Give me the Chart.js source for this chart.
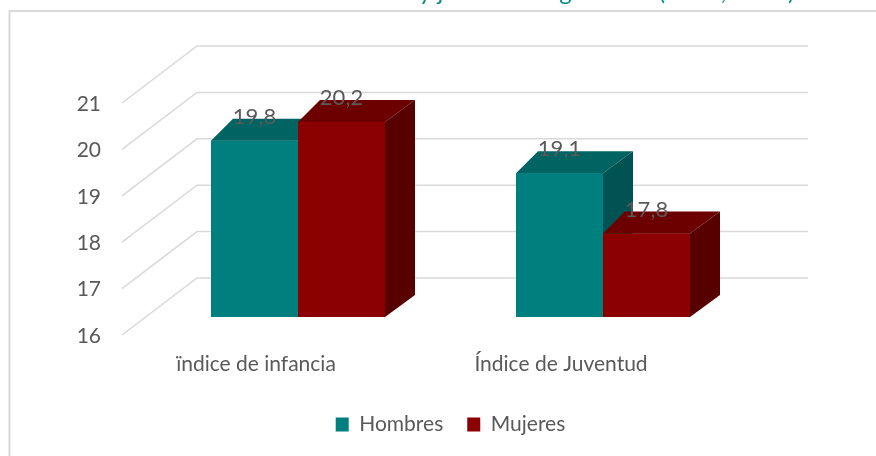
<!DOCTYPE html>
<html>
<head>
<meta charset="utf-8">
<script src="https://cdn.jsdelivr.net/npm/chart.js@4/dist/chart.umd.min.js"></script>
<style>
  html, body { margin: 0; padding: 0; background: #ffffff; }
  #wrap { width: 876px; height: 456px; position: relative; }
  canvas { display: block; }
</style>
</head>
<body>
<div id="wrap"><canvas id="c" width="876" height="456"></canvas></div>
<script>
// ---- data ----
const titleText = 'Índice de infancia y juventud según sexo (2019, 2020)';
const categories = ['ïndice de infancia', 'Índice de Juventud'];
const seriesNames = ['Hombres', 'Mujeres'];
const hombres = [19.8, 19.1];
const mujeres = [20.2, 17.8];
const yMin = 16;
const yMax = 21;
const yStep = 1;

// ---- styles ----
const FONT = 'Lato';
const TEXT = '#595959';
const frontColors = ['#007f7f', '#8b0000'];
const topColors = ['#006462', '#6c0000'];
const sideColors = ['#005352', '#580000'];
const DX_L = 22, DX_R = 30, DY = -22;

const framePlugin = {
  id: 'frame',
  beforeDraw(chart) {
    const ctx = chart.ctx;
    ctx.save();
    ctx.strokeStyle = '#d9d9d9';
    ctx.lineWidth = 2;
    ctx.beginPath();
    ctx.moveTo(9.5, 460);
    ctx.lineTo(9.5, 11);
    ctx.lineTo(880, 11);
    ctx.stroke();
    // title (only its lower part is visible, as in the reference)
    ctx.fillStyle = '#0a8a88';
    ctx.font = '24px ' + FONT;
    ctx.textAlign = 'center';
    ctx.textBaseline = 'alphabetic';
    ctx.fillText(titleText, 512, 0);
    ctx.restore();
  }
};

const gridPlugin = {
  id: 'grid3d',
  beforeDatasetsDraw(chart) {
    const ctx = chart.ctx;
    const ys = chart.scales.y;
    ctx.save();
    ctx.strokeStyle = '#d9d9d9';
    ctx.lineWidth = 1.5;
    ys.ticks.forEach(t => {
      const p = ys.getPixelForValue(t.value);
      ctx.beginPath();
      ctx.moveTo(122, p + 18);
      ctx.lineTo(197, p - 39);
      ctx.lineTo(808, p - 39);
      ctx.stroke();
    });
    ctx.restore();
  }
};

// Redraw bars left to right, each with its front (library element), top and side faces
const barsPlugin = {
  id: 'bars3d',
  afterDatasetsDraw(chart) {
    const ctx = chart.ctx;
    const ys = chart.scales.y;
    const basePx = ys.getPixelForValue(ys.min);
    const area = chart.chartArea;
    const items = [];
    chart.data.datasets.forEach((ds, i) => {
      chart.getDatasetMeta(i).data.forEach((bar, j) => items.push({ bar, ds, j }));
    });
    items.sort((a, b) => a.bar.x - b.bar.x);
    items.forEach(({ bar, ds }) => {
      const {x, y, width} = bar.getProps(['x', 'y', 'width'], true);
      const L = x - width / 2, R = x + width / 2;
      ctx.save();
      ctx.beginPath();
      ctx.rect(area.left, area.top, area.right - area.left, area.bottom - area.top);
      ctx.clip();
      bar.draw(ctx, area);
      ctx.restore();
      ctx.save();
      ctx.fillStyle = ds.topColor;
      ctx.beginPath();
      ctx.moveTo(L, y);
      ctx.lineTo(R, y);
      ctx.lineTo(R + DX_R, y + DY);
      ctx.lineTo(L + DX_L, y + DY);
      ctx.closePath();
      ctx.fill();
      ctx.fillStyle = ds.sideColor;
      ctx.beginPath();
      ctx.moveTo(R, y);
      ctx.lineTo(R + DX_R, y + DY);
      ctx.lineTo(R + DX_R, basePx + DY);
      ctx.lineTo(R, basePx);
      ctx.closePath();
      ctx.fill();
      ctx.restore();
    });
    // value labels
    ctx.save();
    ctx.fillStyle = TEXT;
    ctx.font = '22px ' + FONT;
    ctx.textAlign = 'center';
    ctx.textBaseline = 'middle';
    items.forEach(({ bar, ds, j }) => {
      const txt = ds.data[j].toFixed(1).replace('.', ',');
      ctx.fillText(txt, bar.x, bar.y - 24);
    });
    ctx.restore();
  }
};

function draw() {
  new Chart(document.getElementById('c'), {
    type: 'bar',
    data: {
      labels: categories,
      datasets: [
        { label: seriesNames[0], data: hombres, backgroundColor: frontColors[0], topColor: topColors[0], sideColor: sideColors[0],
          borderWidth: 0, categoryPercentage: 0.5705, barPercentage: 1 },
        { label: seriesNames[1], data: mujeres, backgroundColor: frontColors[1], topColor: topColors[1], sideColor: sideColors[1],
          borderWidth: 0, categoryPercentage: 0.5705, barPercentage: 1 }
      ]
    },
    options: {
      responsive: false,
      animation: false,
      devicePixelRatio: 1,
      layout: { padding: { left: 60, right: 120.5, top: 85, bottom: 11 } },
      scales: {
        x: {
          grid: { display: false, drawTicks: false },
          border: { display: false },
          ticks: { font: { family: FONT, size: 21 }, color: TEXT, padding: 35, labelOffset: -42, maxRotation: 0, autoSkip: false },
          afterFit(s) { s.height = 73; }
        },
        y: {
          min: yMin, max: yMax,
          grid: { display: false, drawTicks: false },
          border: { display: false },
          ticks: { stepSize: yStep, font: { family: FONT, size: 21 }, color: TEXT, padding: 44.5, labelOffset: 19 },
          afterFit(s) { s.width = 85.5; }
        }
      },
      plugins: {
        legend: {
          position: 'bottom',
          fullSize: false,
          labels: {
            boxWidth: 13, boxHeight: 14, padding: 24,
            font: { family: FONT, size: 21 }, color: TEXT
          }
        },
        tooltip: { enabled: false },
        title: { display: false }
      }
    },
    plugins: [framePlugin, gridPlugin, barsPlugin]
  });
}

if (document.fonts && document.fonts.load) {
  document.fonts.load('21px ' + FONT).then(draw, draw);
} else {
  draw();
}
</script>
</body>
</html>
